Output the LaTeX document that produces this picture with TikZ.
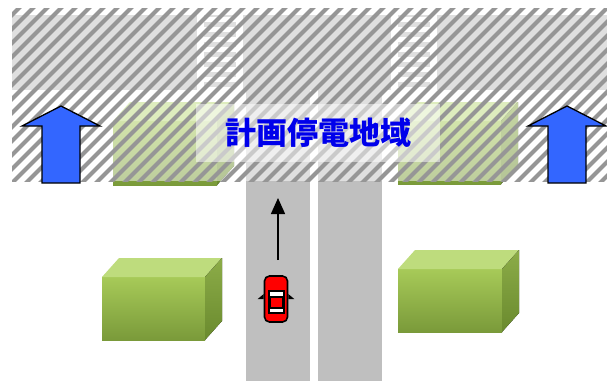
\documentclass[tikz,border=0pt]{standalone}
\usepackage{fontspec}
\newfontfamily\jpfont{Noto Sans CJK JP}
\usetikzlibrary{arrows.meta, positioning, calc}

\definecolor{roadgray}{RGB}{191,191,191}
\definecolor{hatchgray}{RGB}{150,150,150}
\definecolor{areablue}{RGB}{51,102,255}
\definecolor{labelblue}{RGB}{0,0,235}
\definecolor{boxtop}{RGB}{190,220,125}
\definecolor{boxfrontA}{RGB}{167,202,88}
\definecolor{boxfrontB}{RGB}{122,154,58}
\definecolor{boxsideA}{RGB}{140,172,72}
\definecolor{boxsideB}{RGB}{106,138,46}
\definecolor{carred}{RGB}{255,0,0}

% building block: front face corner (x,y), width, height, depth offset 17/19
\newcommand{\building}[4]{%
  \fill[top color=boxfrontA, bottom color=boxfrontB] (#1,#2) rectangle ++(#3,#4);
  \fill[boxtop] (#1,#2) -- ++(17,-19) -- ++(#3,0) -- ++(-17,19) -- cycle;
  \fill[top color=boxsideA, bottom color=boxsideB] (#1+#3,#2) -- ++(17,-19) -- ++(0,#4) -- ++(-17,19) -- cycle;
}

\begin{document}
\begin{tikzpicture}[x=1pt, y=-1pt,
    road/.style={fill=roadgray},
    hatch/.style={draw=hatchgray, line width=4pt},
    areaarrow/.style={draw=black, fill=areablue, line width=1.3pt, line join=miter},
    labelbox/.style={fill=white, fill opacity=.5, text opacity=1, text=labelblue,
        minimum width=244pt, minimum height=58pt, inner sep=0pt,
        font=\jpfont\bfseries\fontsize{31}{31}\selectfont},
    carbody/.style={draw=black, fill=carred, line width=1.6pt, rounded corners=5pt,
        minimum width=23pt, minimum height=46pt, inner sep=0pt},
    move/.style={draw=black, line width=1.4pt, -{Triangle[length=16pt, width=14pt]}},
]
    \useasboundingbox (0,0) rectangle (607,381);

    % streets
    \fill[road] (12,15) rectangle (607,90);
    \fill[road] (246,90) rectangle (310,381);
    \fill[road] (318,90) rectangle (382,381);

    % crossings
    \foreach \cx in {197, 391} {
        \fill[white] (\cx,15) rectangle ++(7,73);
        \fill[white] (\cx+39,15) rectangle ++(7,73);
        \foreach \yy in {17,27,...,87}
            \fill[white] (\cx,\yy) rectangle ++(46,5);
    }

    % blocks inside the area
    \building{113}{121}{104}{64}
    \building{398}{121}{103}{63}

    % outage area
    \begin{scope}
        \clip (12,8) rectangle (607,181);
        \fill[white, opacity=.5] (12,8) rectangle (607,181);
        \foreach \a in {-196,-182,...,620}
            \draw[hatch] (\a,195) -- ++(200,-200);
    \end{scope}

    \node[labelbox] (area) at (318,133) {計画停電地域};

    \foreach \cx/\nm in {61/west, 567/east}
        \draw[areaarrow] (\cx,106) -- ++(39,20) -- ++(-20,0) -- ++(0,57)
            -- ++(-38,0) -- ++(0,-57) -- ++(-20,0) -- cycle;

    % blocks outside
    \building{102}{277}{103}{63}
    \building{398}{269}{104}{63}

    % car
    \node[carbody] (car) at (276,299) {};
    \fill[black] (car.west) ++(0,-5) -- ++(-6,5) -- ++(6,0) -- cycle;
    \fill[black] (car.east) ++(0,-5) -- ++(6,5) -- ++(-6,0) -- cycle;
    \fill[black] (267.5,290) rectangle (284.5,314);
    \fill[white] (269.5,292) rectangle (282.5,295.5);
    \fill[white] (269.5,308.5) rectangle (282.5,312);
    \fill[carred] (270.5,297.5) rectangle (281.5,306.5);

    \coordinate (tail) at (278,260);
    \coordinate (ahead) at (278,198);
    \draw[move] (tail) -- (ahead);
\end{tikzpicture}
\end{document}
